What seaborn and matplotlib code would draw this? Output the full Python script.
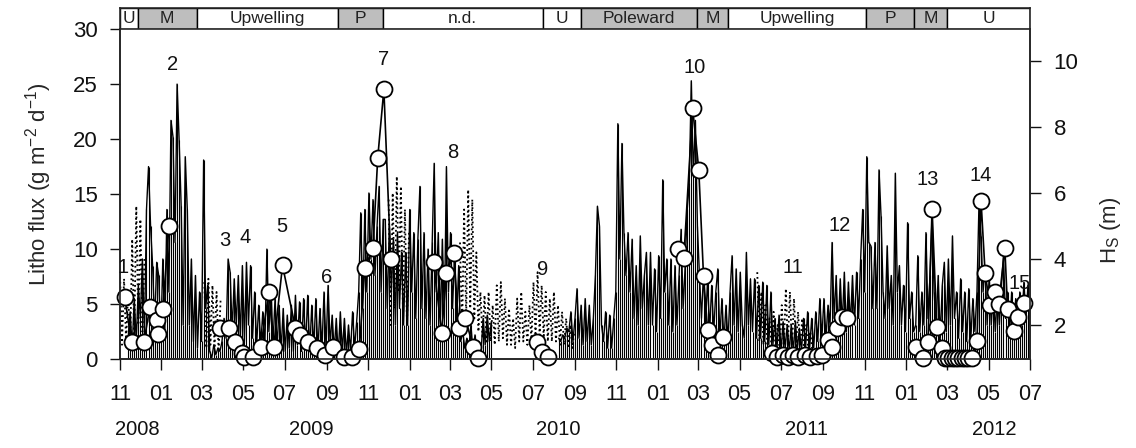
import numpy as np
import pandas as pd
import matplotlib
matplotlib.use("Agg")
import matplotlib.pyplot as plt
import matplotlib.dates as mdates
import matplotlib.transforms as mtrans
import seaborn as sns

sns.set_style("ticks")
plt.rcParams['font.family'] = ['Liberation Sans', 'DejaVu Sans']
plt.rcParams['mathtext.fontset'] = 'custom'
plt.rcParams['mathtext.rm'] = 'Liberation Sans'
plt.rcParams['mathtext.it'] = 'Liberation Sans:italic'

nan = np.nan

# ---------------- Significant wave height (m), 3-day steps from 2008-11-01 -------------
hs_start = "2008-11-01"
hs_step_days = 3
hs_solid = [
    nan, nan, nan, nan, 1.6, 2.4, 1.3, 2.8, 1.5, 3.2,
    2.2, 4.0, 1.6, 5.5, 6.8, 5.0, 3.8, 2.0, 3.9, 3.5,
    1.5, 4.0, 1.8, 5.5, 3.0, 8.2, 7.7, 4.5, 9.3, 7.6,
    5.6, 2.0, 7.1, 5.5, 2.0, 4.0, 1.5, 3.5, 1.3, 3.0,
    1.5, 7.0, 2.5, 3.2, 1.2, 1.0, 1.4, 1.1, 1.3, 1.2,
    1.5, 2.2, 1.6, 4.0, 3.6, 1.8, 3.4, 2.0, 3.5, 1.6,
    3.8, 1.5, 3.9, 2.0, 3.8, 1.6, 3.0, 1.4, 2.6, 1.4,
    2.4, 1.3, 4.3, 1.8, 3.2, 1.4, 2.8, 1.3, 2.6, 1.2,
    2.5, 1.2, 2.3, 1.3, 2.6, 1.2, 2.9, 1.4, 2.7, 1.2,
    2.8, 1.3, 2.9, 1.2, 2.6, 1.3, 2.8, 1.2, 2.5, 1.3,
    3.0, 1.3, 3.2, 1.4, 2.3, 1.2, 2.2, 1.1, 2.4, 1.2,
    2.2, 1.1, 2.0, 1.2, 2.4, 1.3, 2.1, 3.0, 5.4, 2.5,
    5.5, 3.0, 6.0, 4.0, 5.8, 3.5, 5.0, 6.2, 3.0, 5.2,
    5.2, 2.5, 5.0, 3.0, 4.6, 2.0, 4.8, 2.5, 4.2, 2.0,
    4.2, 2.0, 5.5, 3.0, 4.8, 2.2, 4.6, 6.2, 2.5, 4.8,
    2.2, 4.3, 2.0, 4.5, 6.9, 3.0, 4.8, 2.0, 4.6, 2.2,
    6.8, 3.0, 4.8, 2.5, 4.2, 2.0, 3.8, 1.5, 1.8, 1.3,
    1.6, 1.3, 2.0, 1.2, 1.7, 1.2, 1.5, 1.2, 2.2, 1.4,
    2.3, 1.5, 2.1, nan, nan, nan, nan, nan, nan, nan,
    nan, nan, nan, nan, nan, nan, nan, nan, nan, nan,
    nan, nan, nan, nan, nan, nan, nan, nan, nan, nan,
    nan, nan, nan, nan, nan, 1.6, 1.5, 1.7, 1.6, 1.9,
    1.8, 2.4, 1.5, 2.2, 3.1, 1.6, 2.6, 1.4, 2.8, 1.5,
    2.6, 1.4, 2.2, 3.5, 5.6, 5.0, 2.0, 1.5, 2.4, 1.3,
    2.3, 1.3, 2.2, 3.0, 8.1, 4.0, 7.5, 4.8, 3.5, 4.8,
    3.0, 4.6, 2.2, 3.8, 2.0, 4.7, 2.5, 3.5, 4.2, 2.0,
    4.2, 2.0, 3.7, 1.8, 4.1, 2.2, 6.4, 3.0, 4.0, 2.0,
    4.0, 1.8, 3.8, 2.0, 3.5, 4.9, 2.5, 3.8, 5.5, 6.3,
    9.4, 6.5, 8.2, 5.0, 3.5, 2.2, 3.6, 2.0, 3.4, 1.8,
    3.2, 1.8, 3.0, 3.7, 1.6, 2.8, 1.5, 2.6, 1.5, 3.0,
    4.1, 2.0, 3.7, 1.8, 3.6, 2.0, 1.6, 4.2, 2.0, 3.4,
    1.8, 3.4, 1.6, 3.2, 1.6, 3.3, 1.5, 3.2, 1.4, 3.0,
    1.4, 2.2, 1.3, 2.3, 1.2, 2.1, 1.3, 2.0, 1.2, 2.0,
    1.2, 2.1, 1.3, 1.9, 1.2, 2.2, 1.3, 2.4, 1.3, 2.2,
    1.3, 2.4, 1.5, 2.8, 1.6, 2.8, 1.6, 2.6, 2.0, 4.5,
    2.2, 3.5, 1.8, 3.4, 2.0, 3.6, 1.8, 3.3, 2.0, 3.5,
    2.0, 3.6, 2.2, 4.0, 5.5, 3.0, 7.1, 4.5, 4.4, 2.5,
    4.5, 2.5, 6.7, 5.3, 3.0, 2.2, 4.4, 2.5, 3.5, 2.0,
    6.6, 3.0, 3.8, 2.0, 3.2, 1.8, 5.1, 2.2, 3.0, 1.8,
    2.0, 4.1, 1.8, 3.0, 2.0, 4.8, 2.2, 3.5, 5.3, 3.0,
    2.0, 3.5, 1.6, 3.2, 3.9, 1.8, 4.0, 2.0, 4.7, 2.2,
    3.0, 1.6, 3.4, 1.8, 3.0, 1.5, 3.1, 1.6, 2.8, 1.8,
    3.0, 5.7, 4.7, 3.0, 3.8, 2.0, 3.5, 2.0, 3.0, 1.8,
    3.0, 2.0, 3.2, 4.1, 2.2, 3.0, 1.8, 3.0, 2.0, 2.8,
    1.8, 3.0, 2.0, 3.3, 2.2, 3.2, 2.0,
]

# Secondary (dotted) wave height records, 3-day steps
dot_a_start = "2008-11-01"
dot_a = [3.6, 1.4, 3.4, 1.5, 3.0, 1.4, 4.6, 1.6, 5.6, 2.0, 5.2, 1.8, 4.0]
dot_b_start = "2009-03-05"
dot_b = [3.3, 1.3, 3.4, 1.4, 3.2, 1.3, 3.0, 1.2, 2.8]
dot_c_start = "2009-12-01"
dot_c = [5.8, 2.0, 6.0, 2.5, 6.5, 3.0, 6.2, 2.5, 5.5, 2.0, 4.8]
dot_d_start = "2010-03-16"
dot_d = [4.5, 1.8, 5.5, 2.2, 6.1, 2.5, 5.8, 2.2, 4.2, 1.8, 3.0, 1.6, 2.9, 1.5, 3.0,
         1.5, 2.6, 1.4, 3.2, 1.5, 3.3, 1.6, 2.8, 1.4, 2.5, 1.4, 2.2, 1.3, 2.8, 1.5,
         3.0, 1.5, 2.4, 1.4, 2.6, 1.5, 3.3, 1.6, 3.6, 1.7, 3.2, 1.6, 3.0, 1.5, 2.8,
         1.5, 3.0, 1.5, 2.6, 1.4, 2.4, 1.4, 2.2, 1.3, 2.0, 1.3, 1.8]
dot_e_start = "2011-05-27"
dot_e = [3.6, 1.5, 3.0, 1.4, 2.6, 1.3, 2.2, 1.3, 2.4, 1.2, 2.0, 1.2, 2.6, 1.3, 3.1,
         1.4, 3.0, 1.3, 2.8, 1.3, 2.4, 1.2, 2.2, 1.2, 2.0, 1.2, 1.8, 1.2]

# ---------------- Lithogenic flux (g m-2 d-1), one list per deployment ----------------
flux_a_dates = ["2008-11-08", "2008-11-18", "2008-12-06", "2008-12-15", "2008-12-25",
                "2008-12-27", "2009-01-03", "2009-01-12"]
flux_a = [5.6, 1.5, 1.5, 4.7, 3.5, 2.3, 4.5, 12.1]
flux_b_dates = ["2009-03-28", "2009-04-10", "2009-04-19", "2009-04-29", "2009-05-03",
                "2009-05-15", "2009-05-27", "2009-06-08", "2009-06-15", "2009-06-28",
                "2009-07-17", "2009-07-23", "2009-08-04", "2009-08-17", "2009-08-29",
                "2009-09-10"]
flux_b = [2.8, 2.8, 1.5, 0.5, 0.2, 0.2, 1.1, 6.1, 1.1, 8.5, 2.8, 2.2, 1.5, 1.0, 0.4, 1.1]
flux_c_dates = ["2009-09-27", "2009-10-08", "2009-10-19", "2009-10-27", "2009-11-08",
                "2009-11-15", "2009-11-24", "2009-12-04"]
flux_c = [0.2, 0.2, 0.9, 8.3, 10.1, 18.3, 24.5, 9.1]
flux_d_dates = ["2010-02-05", "2010-02-17", "2010-02-24", "2010-03-07", "2010-03-14",
                "2010-03-24", "2010-04-04", "2010-04-11"]
flux_d = [8.8, 2.4, 7.8, 9.6, 2.8, 3.7, 1.1, 0.1]
flux_e_dates = ["2010-07-07", "2010-07-14", "2010-07-24"]
flux_e = [1.5, 0.6, 0.2]
flux_f_dates = ["2011-01-30", "2011-02-08", "2011-02-21", "2011-03-02", "2011-03-09",
                "2011-03-15", "2011-03-21", "2011-03-30", "2011-04-06"]
flux_f = [10.0, 9.2, 22.8, 17.2, 7.5, 2.6, 1.3, 0.4, 2.0]
flux_g_dates = ["2011-06-17", "2011-06-25", "2011-07-04", "2011-07-11", "2011-07-18",
                "2011-07-26", "2011-08-05", "2011-08-12", "2011-08-23", "2011-08-30",
                "2011-09-08", "2011-09-14", "2011-09-21", "2011-09-28", "2011-10-06"]
flux_g = [0.5, 0.2, 0.4, 0.2, 0.4, 0.2, 0.4, 0.2, 0.3, 0.4, 1.7, 1.1, 2.8, 3.8, 3.7]
flux_h_dates = ["2012-01-15", "2012-01-25", "2012-02-02", "2012-02-08", "2012-02-15",
                "2012-02-22", "2012-02-27", "2012-03-02", "2012-03-08", "2012-03-12",
                "2012-03-17", "2012-03-23", "2012-03-27", "2012-04-01", "2012-04-06",
                "2012-04-14", "2012-04-20", "2012-04-26", "2012-05-03", "2012-05-10",
                "2012-05-16", "2012-05-25", "2012-05-29", "2012-06-08", "2012-06-13",
                "2012-06-22"]
flux_h = [1.1, 0.1, 1.5, 13.6, 2.9, 1.0, 0.1, 0.1, 0.1, 0.1, 0.1, 0.1, 0.1, 0.1, 0.1,
          1.6, 14.4, 7.8, 4.9, 6.1, 5.0, 10.1, 4.5, 2.5, 3.8, 5.1]

# Event numbers and where they are written (date, flux units)
event_labels = ["1", "2", "3", "4", "5", "6", "7", "8", "9", "10", "11", "12", "13", "14", "15"]
event_dates = ["2008-11-05", "2009-01-18", "2009-04-04", "2009-05-04", "2009-06-27",
               "2009-09-01", "2009-11-24", "2010-03-06", "2010-07-16", "2011-02-24",
               "2011-07-18", "2011-09-25", "2012-02-02", "2012-04-20", "2012-06-16"]
event_flux = [8.3, 26.8, 10.8, 11.0, 12.0, 7.4, 27.2, 18.8, 8.1, 26.5, 8.3, 12.1, 16.3,
              16.7, 6.9]

# Current regime band
band_labels = ["U", "M", "Upwelling", "P", "n.d.", "U", "Poleward", "M", "Upwelling",
               "P", "M", "U"]
band_starts = ["2008-11-01", "2008-11-27", "2009-02-22", "2009-09-17", "2009-11-22",
               "2010-07-16", "2010-09-10", "2011-02-27", "2011-04-14", "2011-11-03",
               "2012-01-12", "2012-03-01"]
band_ends = band_starts[1:] + ["2012-07-01"]
band_shaded = [False, True, False, True, False, False, True, True, False, True, True, False]

year_labels = ["2008", "2009", "2010", "2011", "2012"]
year_dates = ["2008-11-27", "2009-08-09", "2010-08-08", "2011-08-08", "2012-05-10"]

# ---------------- Figure ----------------
fig = plt.figure(figsize=(11.36, 4.48), dpi=100)
ax = fig.add_axes([0.1056, 0.1987, 0.8011, 0.7366])
ax_hs = ax.twinx()
ax.set_zorder(ax_hs.get_zorder() + 1)
ax.patch.set_visible(False)
hs_floor = 0.97

# Hs solid: spikes from the axis floor plus a connecting line
hs_vals = np.array(hs_solid, dtype=float)
hs_dates = pd.Timestamp(hs_start) + pd.to_timedelta(np.arange(len(hs_vals)) * hs_step_days, unit="D")
seg = np.cumsum(np.isnan(hs_vals))
df_hs = pd.DataFrame({"date": hs_dates, "hs": hs_vals, "seg": seg}).dropna()
sns.lineplot(data=df_hs, x="date", y="hs", units="seg", estimator=None, color="black",
             lw=1.0, ax=ax_hs, legend=False, sort=False)
ax_hs.vlines(df_hs["date"], hs_floor, df_hs["hs"], color="black", lw=0.8)

# Hs dotted
dot_frames = []
for k, (st, vals) in enumerate([(dot_a_start, dot_a), (dot_b_start, dot_b), (dot_c_start, dot_c),
                                (dot_d_start, dot_d), (dot_e_start, dot_e)]):
    d = pd.Timestamp(st) + pd.to_timedelta(np.arange(len(vals)) * hs_step_days, unit="D")
    dot_frames.append(pd.DataFrame({"date": d, "hs": vals, "seg": k}))
df_dot = pd.concat(dot_frames, ignore_index=True)
sns.lineplot(data=df_dot, x="date", y="hs", units="seg", estimator=None, color="black",
             lw=1.3, linestyle=":", ax=ax_hs, legend=False, sort=False)

# Flux
flux_sets = [(flux_a_dates, flux_a), (flux_b_dates, flux_b), (flux_c_dates, flux_c),
             (flux_d_dates, flux_d), (flux_e_dates, flux_e), (flux_f_dates, flux_f),
             (flux_g_dates, flux_g), (flux_h_dates, flux_h)]
df_flux = pd.concat([pd.DataFrame({"date": pd.to_datetime(d), "flux": v, "seq": i})
                     for i, (d, v) in enumerate(flux_sets)], ignore_index=True)
sns.lineplot(data=df_flux, x="date", y="flux", units="seq", estimator=None, color="black",
             lw=1.2, marker="o", markersize=11.5, markerfacecolor="white",
             markeredgecolor="black", markeredgewidth=1.3, ax=ax, legend=False,
             sort=False, clip_on=False)

for lab, d, f in zip(event_labels, event_dates, event_flux):
    ax.text(pd.Timestamp(d), f, lab, ha="center", va="center", fontsize=14.5, color="#111111")

# Axes
xmin, xmax = pd.Timestamp("2008-11-01"), pd.Timestamp("2012-07-01")
ax.set_xlim(xmin, xmax)
ax.set_ylim(0, 30)
ax.set_yticks([0, 5, 10, 15, 20, 25, 30])
ax_hs.set_ylim(hs_floor, 10.97)
ax_hs.set_yticks([2, 4, 6, 8, 10])
ax.xaxis.set_major_locator(mdates.MonthLocator(bymonth=[1, 3, 5, 7, 9, 11]))
ax.xaxis.set_major_formatter(mdates.DateFormatter("%m"))

ax.tick_params(axis="y", direction="out", length=7, width=1, labelsize=16, pad=9, colors="#111111")
ax.tick_params(axis="x", direction="out", length=8, width=1, labelsize=15.5, pad=10, colors="#111111")
ax_hs.tick_params(axis="y", direction="out", length=8, width=1, labelsize=16, pad=9, colors="#111111")
for a in (ax, ax_hs):
    a.spines["top"].set_visible(False)
    for s in ("left", "right", "bottom"):
        a.spines[s].set_linewidth(1.2)
ax.set_xlabel("")
ax.set_ylabel("Litho flux (g m$^{-2}$ d$^{-1}$)", fontsize=16)
ax.yaxis.set_label_coords(-0.072, 0.53)
ax_hs.set_ylabel("H$_\\mathrm{S}$ (m)", fontsize=16)
ax_hs.yaxis.set_label_coords(1.075, 0.39)

trans = mtrans.blended_transform_factory(ax.transData, ax.transAxes)
for lab, d in zip(year_labels, year_dates):
    ax.text(pd.Timestamp(d), -0.215, lab, transform=trans, ha="center", va="center",
            fontsize=14.5, color="#111111")

# Regime band
axb = fig.add_axes([0.1056, 0.9353, 0.8011, 0.0469])
axb.set_xlim(xmin, xmax)
axb.set_ylim(0, 1)
for lab, s, e, sh in zip(band_labels, band_starts, band_ends, band_shaded):
    s, e = pd.Timestamp(s), pd.Timestamp(e)
    axb.axvspan(s, e, facecolor="#bebebe" if sh else "white", edgecolor="black", lw=1.0)
    axb.text(s + (e - s) / 2, 0.5, lab, ha="center", va="center", fontsize=12.5, color="#222222")
axb.set_xticks([])
axb.set_yticks([])
for s in axb.spines.values():
    s.set_linewidth(1.2)

fig.savefig("out.png", dpi=100)
